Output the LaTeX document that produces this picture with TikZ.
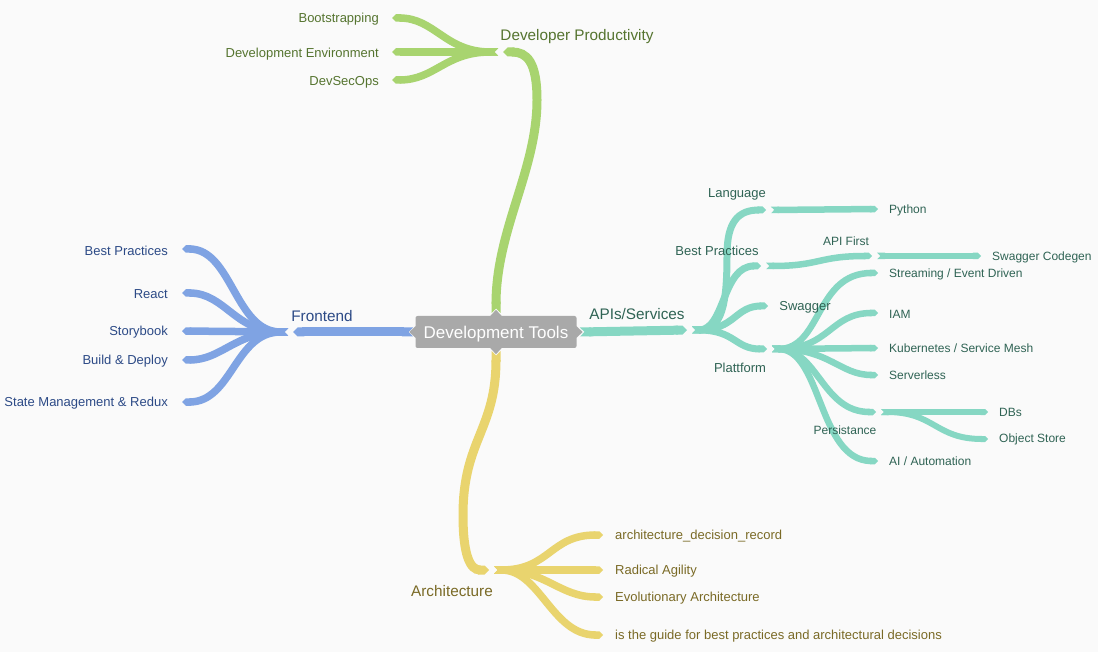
\documentclass[tikz,border=0pt]{standalone}
\usepackage{fontspec}
\setmainfont{Liberation Sans}
\usetikzlibrary{arrows.meta,calc}
\definecolor{bg}{HTML}{FAFAFA}
\definecolor{gline}{HTML}{A8D46F}
\definecolor{gtext}{HTML}{55742F}
\definecolor{bline}{HTML}{7FA3E3}
\definecolor{btext}{HTML}{2C4A86}
\definecolor{tline}{HTML}{86D7C3}
\definecolor{ttext}{HTML}{2F6354}
\definecolor{yline}{HTML}{E9D46E}
\definecolor{ytext}{HTML}{7A6A26}
\definecolor{rootgray}{HTML}{A9A9A9}
\tikzset{
  br/.style={line width=#1, {Triangle Cap[reversed]}-{Triangle Cap}},
  leaf/.style={inner sep=0pt, yshift=-1.5pt, font=\fontsize{13}{15}\selectfont},
  sleaf/.style={inner sep=0pt, yshift=-1.5pt, font=\fontsize{12}{14}\selectfont},
  head/.style={inner sep=0pt, yshift=-2pt, font=\fontsize{15.3}{18}\selectfont},
  rootbox/.style={fill=rootgray, text=white, rounded corners=2pt, minimum width=161pt, minimum height=32pt, inner sep=0pt, font=\fontsize{17}{20}\selectfont},
}
\begin{document}
\begin{tikzpicture}[x=1pt,y=-1pt]
\fill[bg] (0,0) rectangle (1098,652);
\useasboundingbox (0,0) rectangle (1098,652);

% ---------- coordinates ----------
% green
\coordinate (gS) at (496,313);
\coordinate (gJ1) at (503,52);
\coordinate (gJ2) at (498,52);
\coordinate (gBoot) at (392,18);
\coordinate (gEnv) at (392,52);
\coordinate (gDSO) at (392,80);
% blue
\coordinate (bS) at (413,332);
\coordinate (bJ1) at (293,332);
\coordinate (bJ2) at (288,332);
\coordinate (bBP) at (182,249);
\coordinate (bRe) at (182,293);
\coordinate (bSB) at (182,331);
\coordinate (bBD) at (182,360);
\coordinate (bSM) at (182,402);
% teal
\coordinate (tS) at (580,332);
\coordinate (tJ1) at (687,330);
\coordinate (tJ2) at (692,330);
\coordinate (tL1) at (766,210);
\coordinate (tL2) at (771,210);
\coordinate (tPy) at (878,209);
\coordinate (tB1) at (761,266);
\coordinate (tB2) at (766,266);
\coordinate (tA1) at (872,256);
\coordinate (tA2) at (877,256);
\coordinate (tSC) at (981,256);
\coordinate (tSw) at (768,306);
\coordinate (tP1) at (767,349);
\coordinate (tP2) at (772,349);
\coordinate (tSt) at (878,273);
\coordinate (tIAM) at (878,313);
\coordinate (tK) at (878,348);
\coordinate (tSv) at (878,375);
\coordinate (tPe1) at (876,412);
\coordinate (tPe2) at (881,412);
\coordinate (tAI) at (878,461);
\coordinate (tDB) at (988,412);
\coordinate (tOS) at (988,439);
% yellow
\coordinate (yS) at (496,351);
\coordinate (yJ1) at (489,570);
\coordinate (yJ2) at (494,570);
\coordinate (yADR) at (603,535);
\coordinate (yRA) at (603,570);
\coordinate (yEA) at (603,597);
\coordinate (yGu) at (603,635);

% ---------- branches ----------
% green
\draw[gline, br=9] (gS) .. controls (496,230) and (537,170) .. (537,100) .. controls (537,62) and (527,52) .. (gJ1);
\draw[gline, br=7.5] (gJ2) .. controls (445,52) and (435,18) .. (gBoot);
\draw[gline, br=7.5] (gJ2) -- (gEnv);
\draw[gline, br=7.5] (gJ2) .. controls (445,52) and (435,80) .. (gDSO);
% blue
\draw[bline, br=9] (bS) -- (bJ1);
\draw[bline, br=7.5] (bJ2) .. controls (235,332) and (232,249) .. (bBP);
\draw[bline, br=7.5] (bJ2) .. controls (235,332) and (225,293) .. (bRe);
\draw[bline, br=7.5] (bJ2) -- (bSB);
\draw[bline, br=7.5] (bJ2) .. controls (235,332) and (222,360) .. (bBD);
\draw[bline, br=7.5] (bJ2) .. controls (235,332) and (232,402) .. (bSM);
% teal
\draw[tline, br=9] (tS) -- (tJ1);
\draw[tline, br=7] (tJ2) .. controls (722,330) and (727,305) .. (727,255) .. controls (727,222) and (738,210) .. (tL1);
\draw[tline, br=6.5] (tL2) -- (tPy);
\draw[tline, br=7] (tJ2) .. controls (725,330) and (722,266) .. (tB1);
\draw[tline, br=6.5] (tB2) .. controls (820,266) and (818,256) .. (tA1);
\draw[tline, br=6.5] (tA2) -- (tSC);
\draw[tline, br=7] (tJ2) .. controls (735,330) and (735,306) .. (tSw);
\draw[tline, br=7] (tJ2) .. controls (735,330) and (735,349) .. (tP1);
\draw[tline, br=6.5] (tP2) .. controls (822,349) and (815,273) .. (tSt);
\draw[tline, br=6.5] (tP2) .. controls (830,349) and (830,313) .. (tIAM);
\draw[tline, br=6.5] (tP2) -- (tK);
\draw[tline, br=6.5] (tP2) .. controls (830,349) and (840,375) .. (tSv);
\draw[tline, br=6.5] (tP2) .. controls (818,349) and (822,412) .. (tPe1);
\draw[tline, br=6.5] (tP2) .. controls (822,349) and (818,461) .. (tAI);
\draw[tline, br=6] (tPe2) -- (tDB);
\draw[tline, br=6] (tPe2) .. controls (935,412) and (935,439) .. (tOS);
% yellow
\draw[yline, br=9] (yS) .. controls (496,430) and (463,440) .. (463,515) .. controls (463,555) and (470,570) .. (yJ1);
\draw[yline, br=7.5] (yJ2) .. controls (550,570) and (550,535) .. (yADR);
\draw[yline, br=7.5] (yJ2) -- (yRA);
\draw[yline, br=7.5] (yJ2) .. controls (545,570) and (560,597) .. (yEA);
\draw[yline, br=7.5] (yJ2) .. controls (540,570) and (552,635) .. (yGu);

% ---------- root ----------
\node[rootbox] (root) at (496,332) {\smash{\raisebox{-6pt}{Development Tools}}};
\fill[rootgray] ($(root.north)+(-6,0.5)$) -- ($(root.north)+(0,-6)$) -- ($(root.north)+(6,0.5)$) -- cycle;
\fill[rootgray] ($(root.south)+(-6,-0.5)$) -- ($(root.south)+(0,6)$) -- ($(root.south)+(6,-0.5)$) -- cycle;
\fill[rootgray] ($(root.west)+(0.5,-6)$) -- ($(root.west)+(-6,0)$) -- ($(root.west)+(0.5,6)$) -- cycle;
\fill[rootgray] ($(root.east)+(-0.5,-6)$) -- ($(root.east)+(6,0)$) -- ($(root.east)+(-0.5,6)$) -- cycle;

% ---------- labels ----------
\begin{scope}[text=gtext]
\node[head] (devprod) at (577,35) {Developer Productivity};
\node[leaf, anchor=east] (boot) at (379,18) {Bootstrapping};
\node[leaf, anchor=east] (env) at (379,53) {Development Environment};
\node[leaf, anchor=east] (dso) at (379,81) {DevSecOps};
\end{scope}
\begin{scope}[text=btext]
\node[head] (front) at (322,314) {Frontend};
\node[leaf, anchor=east] (bbp) at (168,249) {Best Practices};
\node[leaf, anchor=east] (bre) at (168,293) {React};
\node[leaf, anchor=east] (bsb) at (168,331) {Storybook};
\node[leaf, anchor=east] (bbd) at (168,360) {Build \& Deploy};
\node[leaf, anchor=east] (bsm) at (168,402) {State Management \& Redux};
\end{scope}
\begin{scope}[text=ttext]
\node[head] (apis) at (637,312) {APIs/Services};
\node[leaf] (lang) at (737,193) {Language};
\node[leaf] (tbp) at (717,249) {Best Practices};
\node[sleaf] (apif) at (846,240) {API First};
\node[leaf] (swag) at (805,306) {Swagger};
\node[leaf] (platt) at (740,366) {Plattform};
\node[sleaf] (pers) at (845,429) {Persistance};
\node[sleaf, anchor=west] (py) at (889,209) {Python};
\node[sleaf, anchor=west] (sc) at (992,256) {Swagger Codegen};
\node[sleaf, anchor=west] (st) at (889,273) {Streaming / Event Driven};
\node[sleaf, anchor=west] (iam) at (889,313) {IAM};
\node[sleaf, anchor=west] (kube) at (889,347) {Kubernetes / Service Mesh};
\node[sleaf, anchor=west] (sv) at (889,374) {Serverless};
\node[sleaf, anchor=west] (dbs) at (999,411) {DBs};
\node[sleaf, anchor=west] (os) at (999,438) {Object Store};
\node[sleaf, anchor=west] (ai) at (889,460) {AI / Automation};
\end{scope}
\begin{scope}[text=ytext]
\node[head] (arch) at (452,589) {Architecture};
\node[leaf, anchor=west] (adr) at (615,535) {architecture\_decision\_record};
\node[leaf, anchor=west] (ra) at (615,570) {Radical Agility};
\node[leaf, anchor=west] (ea) at (615,597) {Evolutionary Architecture};
\node[leaf, anchor=west] (gu) at (615,635) {is the guide for best practices and architectural decisions};
\end{scope}
\end{tikzpicture}
\end{document}
